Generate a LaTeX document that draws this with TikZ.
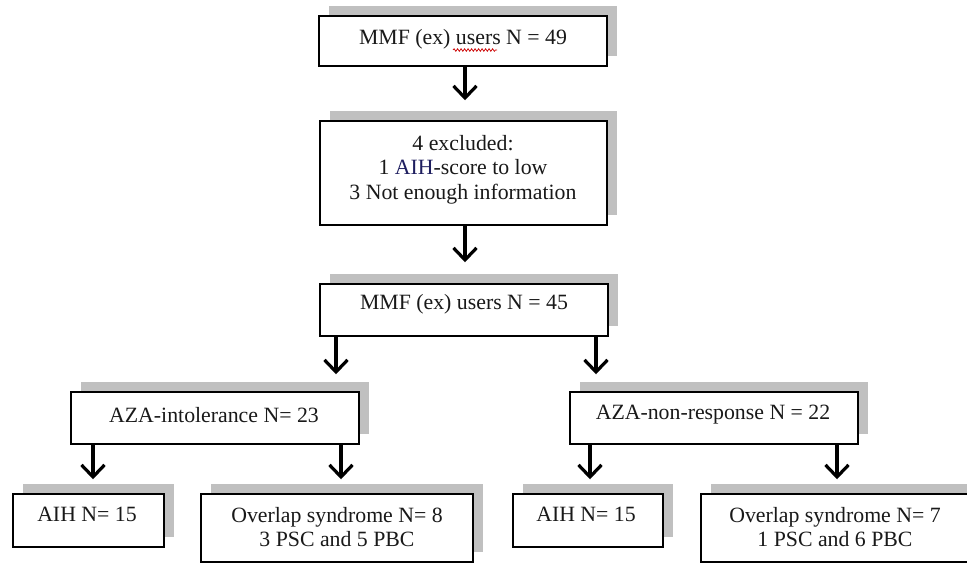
\documentclass[tikz,border=0pt]{standalone}
\usepackage{fontspec}
\setmainfont{Liberation Serif}
\usetikzlibrary{arrows.meta,shadows,decorations.pathmorphing}
\definecolor{shadowgray}{RGB}{192,192,192}
\definecolor{navytext}{RGB}{30,30,95}
\tikzset{
  box/.style={draw=black, line width=1.5pt, fill=white, inner sep=0pt,
    drop shadow={shadow xshift=10pt, shadow yshift=10pt, fill=shadowgray, opacity=1, draw=none}},
  lbl/.style={inner sep=0pt, align=center, font=\fontsize{21.8}{24.5}\selectfont, text=black!90},
  arr/.style={line width=3.4pt, -{Straight Barb[length=12pt,width=23pt,line width=3.2pt]}},
}
\begin{document}
\begin{tikzpicture}[x=1pt, y=-1pt]
\useasboundingbox (0,0) rectangle (967,563);
% boxes
\node[box, minimum width=288pt, minimum height=50pt]  (b1)  at (463,41) {};
\node[box, minimum width=287pt, minimum height=104pt] (b2)  at (463.5,173) {};
\node[box, minimum width=288pt, minimum height=52pt]  (b3)  at (464,310) {};
\node[box, minimum width=288pt, minimum height=52pt]  (az1) at (215,418) {};
\node[box, minimum width=288pt, minimum height=52pt]  (az2) at (714,418) {};
\node[box, minimum width=151pt, minimum height=53pt]  (l1)  at (88.5,520.5) {};
\node[box, minimum width=272pt, minimum height=68pt]  (l2)  at (337,528) {};
\node[box, minimum width=150pt, minimum height=53pt]  (r1)  at (588,520.5) {};
\node[box, minimum width=268pt, minimum height=68pt]  (r2)  at (835,528) {};
% texts
\node[lbl] (t1) at (463,39) {MMF (ex) users N = 49};
\node[lbl] (t2) at (463,169.5) {4 excluded:\\1 {\color{navytext}AIH}-score to low\\3 Not enough information};
\node[lbl] (t3) at (464,304) {MMF (ex) users N = 45};
\node[lbl] (t4) at (214,415) {AZA-intolerance N= 23};
\node[lbl] (t5) at (713,415) {AZA-non-response N = 22};
\node[lbl] (t6) at (87,514) {AIH N= 15};
\node[lbl] (t7) at (337,527) {Overlap syndrome N= 8\\3 PSC and 5 PBC};
\node[lbl] (t8) at (586,514) {AIH N= 15};
\node[lbl] (t9) at (835,527) {Overlap syndrome N= 7\\1 PSC and 6 PBC};
% spell-check underline
\coordinate (sq1) at (453,50);
\coordinate (sq2) at (497,50);
\draw[red!80!black, line width=0.7pt, decorate, decoration={snake, amplitude=1.3pt, segment length=3.5pt}] (sq1) -- (sq2);
% arrow columns
\coordinate (x0) at (465,0);
\coordinate (x1) at (336,0);
\coordinate (x2) at (596,0);
\coordinate (x3) at (93,0);
\coordinate (x4) at (341,0);
\coordinate (x5) at (590,0);
\coordinate (x6) at (837,0);
% arrows
\draw[arr, shorten >=20pt] (x0 |- b1.south) -- (x0 |- b2.north);
\draw[arr, shorten >=21pt] (x0 |- b2.south) -- (x0 |- b3.north);
\draw[arr, shorten >=17pt] (x1 |- b3.south) -- (x1 |- az1.north);
\draw[arr, shorten >=17pt] (x2 |- b3.south) -- (x2 |- az2.north);
\draw[arr, shorten >=14pt] (x3 |- az1.south) -- (x3 |- l1.north);
\draw[arr, shorten >=14pt] (x4 |- az1.south) -- (x4 |- l2.north);
\draw[arr, shorten >=14pt] (x5 |- az2.south) -- (x5 |- r1.north);
\draw[arr, shorten >=14pt] (x6 |- az2.south) -- (x6 |- r2.north);
\end{tikzpicture}
\end{document}
